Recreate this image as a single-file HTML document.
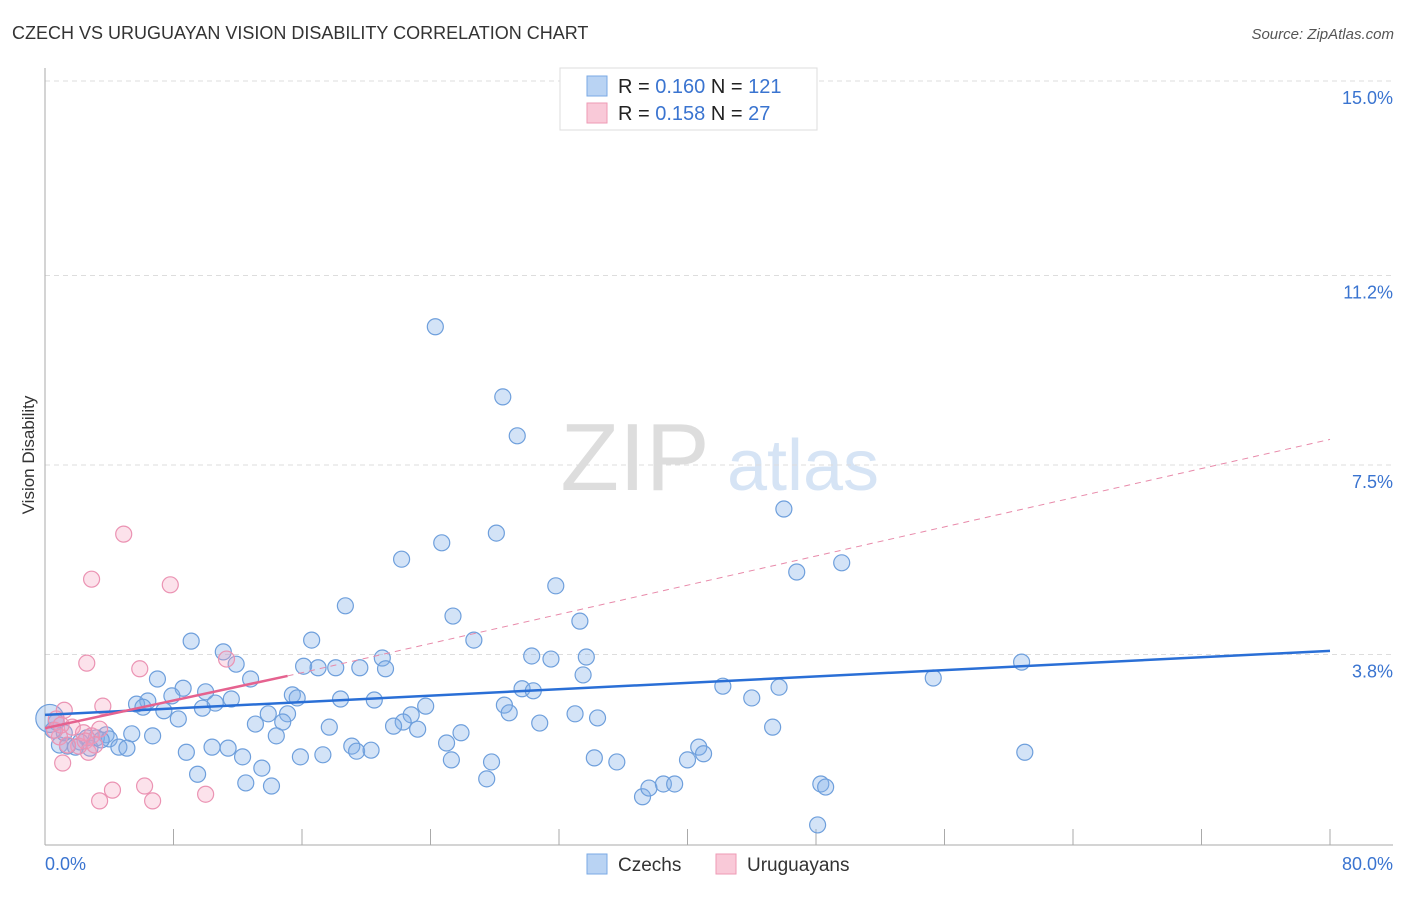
<!DOCTYPE html>
<html><head><meta charset="utf-8"><style>
body{margin:0;background:#fff;font-family:"Liberation Sans",sans-serif}
svg text{font-family:"Liberation Sans",sans-serif}
</style></head><body>
<svg id="chart" width="1406" height="892" xmlns="http://www.w3.org/2000/svg">
<text x="12" y="39" font-size="18" fill="#333">CZECH VS URUGUAYAN VISION DISABILITY CORRELATION CHART</text>
<text x="1394" y="39" font-size="15" fill="#555" text-anchor="end" font-style="italic">Source: ZipAtlas.com</text>
<text transform="translate(34,455) rotate(-90)" font-size="17" fill="#333" text-anchor="middle">Vision Disability</text>
<g>
<text x="635" y="490" font-size="96" fill="#ddd" text-anchor="middle" font-family="Liberation Serif,serif">ZIP</text>
<text x="803" y="490" font-size="72" fill="#d6e4f5" text-anchor="middle">atlas</text>
</g>
<g id="grid"></g>
<g id="axes"></g>
<g id="marks"></g>
<g>
<rect x="560" y="68" width="257" height="62" fill="#fff" stroke="#ddd"/>
<rect x="587" y="76" width="20" height="20" fill="#b9d3f3" stroke="#7aa9e4"/>
<rect x="587" y="103" width="20" height="20" fill="#f9c9d8" stroke="#ee9ab5"/>
<text x="618" y="93" font-size="20" fill="#222">R = <tspan fill="#3a74d0">0.160</tspan>   N = <tspan fill="#3a74d0">121</tspan></text>
<text x="618" y="120" font-size="20" fill="#222">R = <tspan fill="#3a74d0"> 0.158</tspan>   N = <tspan fill="#3a74d0"> 27</tspan></text>
</g>
<g>
<rect x="587" y="854" width="20" height="20" fill="#b9d3f3" stroke="#7aa9e4"/>
<text x="618" y="871" font-size="19" fill="#333">Czechs</text>
<rect x="716" y="854" width="20" height="20" fill="#f9c9d8" stroke="#ee9ab5"/>
<text x="747" y="871" font-size="19" fill="#333">Uruguayans</text>
</g>
</svg>
<script>
const yTicks=[3.8,7.5,11.2,15.0];
const yTickLabels=["3.8%","7.5%","11.2%","15.0%"];
const xTickLabels=["0.0%","80.0%"];
const czechX=[24.3,28.5,29.4,46.0,28.1,24.7,22.2,49.6,46.8,31.8,18.7,25.4,33.3,26.7,9.1,16.6,11.1,11.9,30.3,21.0,31.5,33.7,60.8,16.1,17.0,18.1,19.6,21.2,33.5,12.8,7.0,55.3,8.6,29.7,30.4,42.2,45.7,15.4,10.0,7.9,15.7,6.4,5.7,6.1,10.6,9.8,11.6,18.4,20.5,23.7,28.6,44.0,7.4,8.3,13.9,15.1,22.8,28.9,33.0,34.4,13.1,14.8,22.3,17.7,21.7,23.2,30.8,45.3,25.9,5.4,6.7,3.8,3.2,2.6,2.2,4.0,4.6,5.1,0.9,1.4,14.4,25.0,19.1,19.4,20.3,8.8,10.4,11.4,12.3,15.9,17.3,40.7,41.0,34.2,35.6,40.0,25.3,27.8,61.0,9.5,13.5,27.5,12.5,14.1,37.2,37.6,38.5,39.2,48.3,48.6,48.1,0.5,0.7,1.2,1.9,2.8,3.5,0.3];
const czechY=[10.2,8.83,8.07,6.64,6.17,5.98,5.66,5.59,5.41,5.14,4.75,4.55,4.45,4.08,4.06,4.08,3.85,3.61,3.77,3.73,3.71,3.75,3.65,3.57,3.54,3.54,3.54,3.52,3.40,3.32,3.32,3.34,3.14,3.13,3.09,3.18,3.16,3.01,3.07,2.99,2.95,2.89,2.83,2.77,2.85,2.75,2.93,2.93,2.91,2.79,2.81,2.95,2.70,2.54,2.64,2.64,2.62,2.66,2.64,2.56,2.44,2.48,2.48,2.38,2.40,2.34,2.46,2.38,2.27,2.25,2.21,2.23,2.17,2.17,2.09,2.15,1.99,1.97,2.03,2.01,2.21,2.07,2.01,1.91,1.93,1.89,1.99,1.97,1.80,1.80,1.84,1.99,1.86,1.78,1.70,1.74,1.74,1.70,1.89,1.46,1.58,1.37,1.29,1.23,1.02,1.19,1.27,1.27,1.27,1.21,0.47,2.32,2.48,2.27,1.99,1.97,2.13,2.55];
const uruX=[4.9,2.9,7.8,2.6,5.9,11.3,3.6,1.2,0.7,1.7,2.4,2.9,3.4,0.9,1.1,2.7,6.2,4.2,3.4,6.7,10.0,2.1,0.6,1.4,2.5,3.1,1.0];
const uruY=[6.15,5.27,5.16,3.63,3.52,3.71,2.79,2.71,2.54,2.38,2.27,2.21,2.34,2.19,1.68,1.89,1.23,1.15,0.94,0.94,1.07,2.01,2.32,2.03,2.11,2.03,2.42];
const czechTrend=[2.62,3.87];
const uruTrend=[2.36,3.38];
const uruTrendEnd=15.1;
const uruDashEnd=8.0;

const X0=45,X1=1330,Y0=849,PXPERPCT=51.2;
function sx(v){return X0+v*(X1-X0)/80;}
function sy(v){return Y0-v*PXPERPCT;}
const NS="http://www.w3.org/2000/svg";
function mk(tag,attrs,parent){const e=document.createElementNS(NS,tag);for(const k in attrs)e.setAttribute(k,attrs[k]);parent.appendChild(e);return e;}
const grid=document.getElementById('grid'),axes=document.getElementById('axes'),marks=document.getElementById('marks');
yTicks.forEach((t,i)=>{
  const l=mk('line',{x1:45,x2:1393,y1:sy(t),y2:sy(t),stroke:'#ddd','stroke-dasharray':'5,4'},grid);
  
  
  const tx=mk('text',{x:1393,y:sy(t)+23,'font-size':18,fill:'#3a74d0','text-anchor':'end'},grid);
  tx.textContent=yTickLabels[i];
  
  
});
let a=mk('line',{x1:45,x2:45,y1:68,y2:845,stroke:'#aaa'},axes);


a=mk('line',{x1:45,x2:1393,y1:845,y2:845,stroke:'#aaa'},axes);


for(let i=1;i<=10;i++){
  const t=mk('line',{x1:sx(i*8),x2:sx(i*8),y1:829,y2:845,stroke:'#aaa'},axes);
  
  
}
let xl=mk('text',{x:45,y:870,'font-size':18,fill:'#3a74d0'},axes);xl.textContent=xTickLabels[0];


xl=mk('text',{x:1393,y:870,'font-size':18,fill:'#3a74d0','text-anchor':'end'},axes);xl.textContent=xTickLabels[1];



czechX.forEach((x,i)=>{
  const c=mk('circle',{cx:sx(x),cy:sy(czechY[i]),r:i===czechX.length-1?14:8,fill:'rgba(130,175,232,0.35)',stroke:'#6e9fdc','stroke-width':1.2},marks);
  
  
});
uruX.forEach((x,i)=>{
  const c=mk('circle',{cx:sx(x),cy:sy(uruY[i]),r:8,fill:'rgba(245,160,190,0.3)',stroke:'#eb93b3','stroke-width':1.2},marks);
  
  
});
let ln=mk('line',{x1:sx(uruTrendEnd),y1:sy(uruTrend[1]),x2:sx(80),y2:sy(uruDashEnd),stroke:'#e88aaa','stroke-width':1,'stroke-dasharray':'6,5'},marks);


ln=mk('line',{x1:sx(0),y1:sy(czechTrend[0]),x2:sx(80),y2:sy(czechTrend[1]),stroke:'#2a6fd6','stroke-width':2.5},marks);


ln=mk('line',{x1:sx(0),y1:sy(uruTrend[0]),x2:sx(uruTrendEnd),y2:sy(uruTrend[1]),stroke:'#e5628f','stroke-width':2.5},marks);


</script>
</body></html>
